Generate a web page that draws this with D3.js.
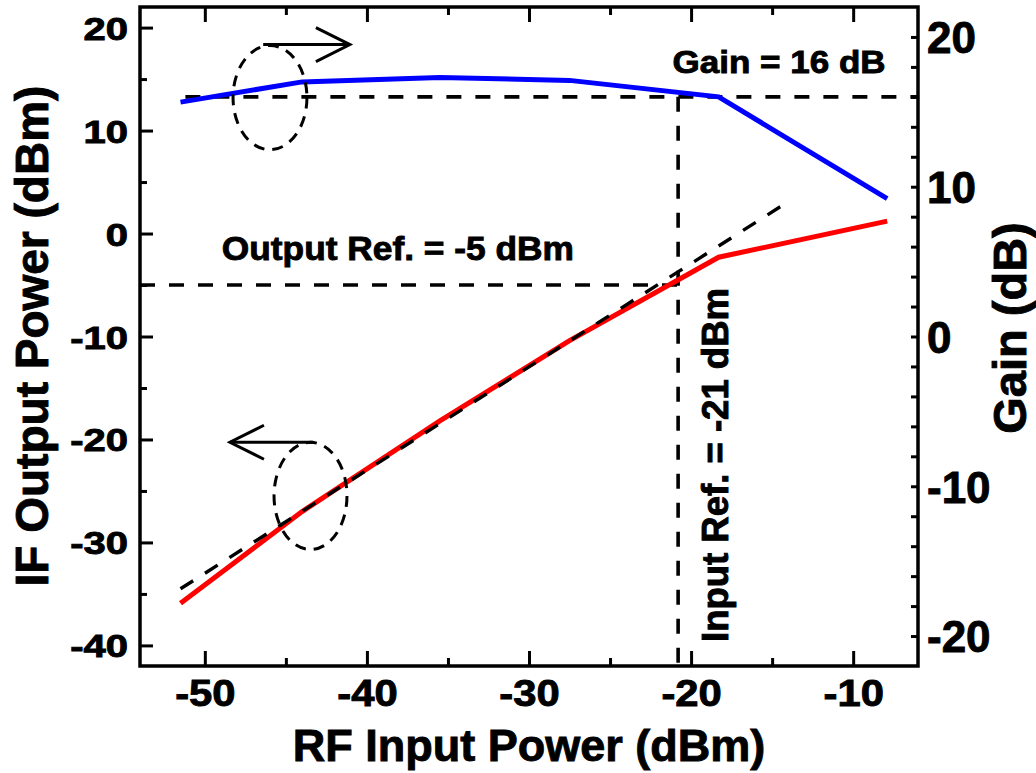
<!DOCTYPE html>
<html>
<head>
<meta charset="utf-8">
<script src="https://cdn.jsdelivr.net/npm/d3@7"></script>
<style>
  body { margin: 0; background: #fff; }
  svg text { font-family: "Liberation Sans", Arial, sans-serif; font-weight: bold; fill: #000; stroke: #000; stroke-width: 0.9; }
</style>
</head>
<body>
<div id="chart"></div>
<script>
// data
const rfInput  = [-51.5, -44, -35.5, -27.5, -18.3, -7.9];     // dBm
const gainDb   = [15.65, 17.0, 17.3, 17.1, 16.0, 9.2];       // right axis
const ifOutput = [-35.9, -27.0, -18.2, -10.4, -2.3, 1.2];    // left axis
const fitIn    = [-51.5, -14.5];
const fitOut   = [-34.5, 2.6];

const gainRef = 16, outRef = -5, inRef = -20.8;

const xTicks  = [-50, -40, -30, -20, -10];
const yLTicks = [-40, -30, -20, -10, 0, 10, 20];
const yRTicks = [-20, -10, 0, 10, 20];

const W = 1036, H = 773;
const M = {left: 140, right: 918, top: 7, bottom: 666};

const svg = d3.select('#chart').append('svg')
  .attr('width', W).attr('height', H)
  .attr('viewBox', `0 0 ${W} ${H}`);
svg.append('rect').attr('width', W).attr('height', H).attr('fill', '#fff');

const x = d3.scaleLinear().domain([-54, -6]).range([M.left, M.right]);
const yL = d3.scaleLinear().domain([-42, 22]).range([M.bottom, M.top]);
const yR = d3.scaleLinear().domain([-22, 22]).range([M.bottom, M.top]);

// plain hyphen for negatives, like the original
const fmt = d => String(d);

// minor ticks
const xMinor = d3.range(-50, -5, 5).filter(v => !xTicks.includes(v));
const yLMinor = d3.range(-40, 21, 5).filter(v => !yLTicks.includes(v));
const yRMinor = d3.range(-20, 21, 2).filter(v => !yRTicks.includes(v));

function clean(g) {
  g.select('.domain').remove();
  g.selectAll('.tick line').attr('stroke', '#000').attr('stroke-width', 3);
}

// bottom axis
svg.append('g').attr('transform', `translate(0,${M.bottom})`)
  .call(d3.axisBottom(x).tickValues(xTicks).tickFormat(fmt).tickSizeInner(-15).tickSizeOuter(0).tickPadding(14))
  .call(clean)
  .call(g => g.selectAll('text')
    .attr('font-size', 37).attr('dy', '0.71em')
    .attr('transform', 'scale(1.13,1)'));
svg.append('g').attr('transform', `translate(0,${M.bottom})`)
  .call(d3.axisBottom(x).tickValues(xMinor).tickSizeInner(-8).tickSizeOuter(0).tickFormat(''))
  .call(clean);
// top axis (ticks only)
svg.append('g').attr('transform', `translate(0,${M.top})`)
  .call(d3.axisTop(x).tickValues(xTicks).tickSizeInner(-15).tickSizeOuter(0).tickFormat(''))
  .call(clean);
svg.append('g').attr('transform', `translate(0,${M.top})`)
  .call(d3.axisTop(x).tickValues(xMinor).tickSizeInner(-8).tickSizeOuter(0).tickFormat(''))
  .call(clean);

// left axis
const sxL = 1.25;
svg.append('g').attr('transform', `translate(${M.left},0)`)
  .call(d3.axisLeft(yL).tickValues(yLTicks).tickFormat(fmt).tickSizeInner(-13).tickSizeOuter(0))
  .call(clean)
  .call(g => g.selectAll('text')
    .attr('font-size', 32).attr('x', -12 / sxL).attr('dy', '0.36em')
    .attr('transform', `scale(${sxL},1)`));
svg.append('g').attr('transform', `translate(${M.left},0)`)
  .call(d3.axisLeft(yL).tickValues(yLMinor).tickSizeInner(-7).tickSizeOuter(0).tickFormat(''))
  .call(clean);

// right axis
svg.append('g').attr('transform', `translate(${M.right},0)`)
  .call(d3.axisRight(yR).tickValues(yRTicks).tickFormat(fmt).tickSizeInner(-7).tickSizeOuter(0).tickPadding(9))
  .call(clean)
  .call(g => g.selectAll('text').attr('font-size', 44).attr('dy', '0.36em'));
svg.append('g').attr('transform', `translate(${M.right},0)`)
  .call(d3.axisRight(yR).tickValues(yRMinor).tickSizeInner(-7).tickSizeOuter(0).tickFormat(''))
  .call(clean);

// frame
svg.append('rect')
  .attr('x', M.left).attr('y', M.top)
  .attr('width', M.right - M.left).attr('height', M.bottom - M.top)
  .attr('fill', 'none').attr('stroke', '#000').attr('stroke-width', 3.5);

// axis titles
svg.append('text').attr('x', (M.left + M.right) / 2 - 0).attr('y', 761)
  .attr('text-anchor', 'middle').attr('font-size', 45)
  .text('RF Input Power (dBm)');
svg.append('text').attr('transform', 'translate(48,336) rotate(-90)')
  .attr('text-anchor', 'middle').attr('font-size', 46)
  .text('IF Output Power (dBm)');
svg.append('text').attr('transform', 'translate(1026,328) rotate(-90)')
  .attr('text-anchor', 'middle').attr('font-size', 47)
  .text('Gain (dB)');

// reference dashed lines
const dash = '15,14';
svg.append('line')
  .attr('x1', x(-51.2)).attr('x2', x(-6))
  .attr('y1', yR(gainRef)).attr('y2', yR(gainRef))
  .attr('stroke', '#000').attr('stroke-width', 3.6).attr('stroke-dasharray', dash);
svg.append('line')
  .attr('x1', x(-54)).attr('x2', x(inRef))
  .attr('y1', yL(outRef)).attr('y2', yL(outRef))
  .attr('stroke', '#000').attr('stroke-width', 3.6).attr('stroke-dasharray', dash);
svg.append('line')
  .attr('x1', x(inRef)).attr('x2', x(inRef))
  .attr('y1', yR(gainRef)).attr('y2', M.bottom)
  .attr('stroke', '#000').attr('stroke-width', 3.6).attr('stroke-dasharray', dash);

// data lines
const gainLine = d3.line().x((d, i) => x(rfInput[i])).y(d => yR(d));
const outLine = d3.line().x((d, i) => x(rfInput[i])).y(d => yL(d));
const fitLine = d3.line().x((d, i) => x(fitIn[i])).y(d => yL(d));

svg.append('path').attr('d', gainLine(gainDb))
  .attr('fill', 'none').attr('stroke', '#0000ff').attr('stroke-width', 5);
svg.append('path').attr('d', outLine(ifOutput))
  .attr('fill', 'none').attr('stroke', '#ff0000').attr('stroke-width', 5);
svg.append('path').attr('d', fitLine(fitOut))
  .attr('fill', 'none').attr('stroke', '#000').attr('stroke-width', 3.4)
  .attr('stroke-dasharray', dash);

// annotation text
svg.append('text').attr('x', x(-8)).attr('y', yR(gainRef) - 24)
  .attr('text-anchor', 'end').attr('font-size', 32)
  .attr('textLength', 213).attr('lengthAdjust', 'spacingAndGlyphs')
  .text('Gain = 16 dB');
svg.append('text').attr('x', x(-48.95)).attr('y', yL(outRef) - 25)
  .attr('font-size', 34)
  .attr('textLength', 352).attr('lengthAdjust', 'spacingAndGlyphs')
  .text('Output Ref. = -5 dBm');
svg.append('text').attr('transform', `translate(${x(inRef) + 50},642) rotate(-90)`)
  .attr('font-size', 36)
  .attr('textLength', 354).attr('lengthAdjust', 'spacingAndGlyphs')
  .text('Input Ref. = -21 dBm');

// ellipses with arrows (data units)
const ovals = [
  {cx: -45.98, cy: 13.2, rx: 2.28, ry: 5.06, from: -46.4, to: -41.05, ay: 18.35},
  {cx: -43.48, cy: -25.48, rx: 2.25, ry: 5.2, from: -43.3, to: -48.45, ay: -20.27}
];
ovals.forEach(o => {
  svg.append('ellipse')
    .attr('cx', x(o.cx)).attr('cy', yL(o.cy))
    .attr('rx', x(o.cx + o.rx) - x(o.cx)).attr('ry', yL(o.cy - o.ry) - yL(o.cy))
    .attr('fill', 'none').attr('stroke', '#000').attr('stroke-width', 3)
    .attr('stroke-dasharray', '11,8');
  const dir = Math.sign(o.to - o.from);
  const tx = x(o.to), ty = yL(o.ay);
  svg.append('line').attr('x1', x(o.from)).attr('x2', tx).attr('y1', ty).attr('y2', ty)
    .attr('stroke', '#000').attr('stroke-width', 3);
  svg.append('path')
    .attr('d', `M${tx - dir * 34},${ty - 17}L${tx},${ty}L${tx - dir * 34},${ty + 17}`)
    .attr('fill', 'none').attr('stroke', '#000').attr('stroke-width', 3);
});
</script>
</body>
</html>
